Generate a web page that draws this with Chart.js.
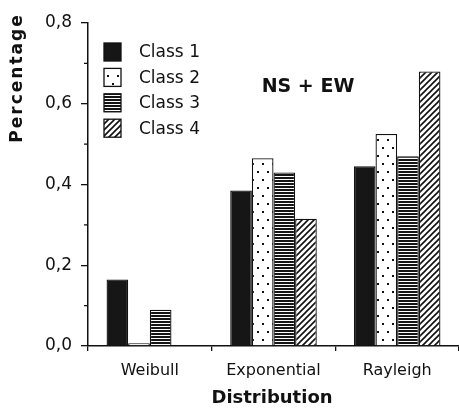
<!DOCTYPE html>
<html>
<head>
<meta charset="utf-8">
<script src="https://cdn.jsdelivr.net/npm/chart.js@4/dist/chart.umd.min.js"></script>
<style>
  html, body { margin: 0; padding: 0; background: #fff; }
  #wrap { width: 459px; height: 413px; position: relative; }
</style>
</head>
<body>
<div id="wrap"><canvas id="c" width="459" height="413"></canvas></div>
<script>
// ---- data ----
const categories = ['Weibull', 'Exponential', 'Rayleigh'];
const seriesLabels = ['Class 1', 'Class 2', 'Class 3', 'Class 4'];
const class1 = [0.165, 0.385, 0.445];
const class2 = [0.007, 0.465, 0.525];
const class3 = [0.09, 0.43, 0.47];
const class4 = [0, 0.315, 0.68];
const minorTicks = [0.1, 0.3, 0.5, 0.7];
const xTitle = 'Distribution';
const yTitle = 'Percentage';
const annotation = 'NS + EW';

// ---- patterns ----
function makeTile(w, h, draw) {
  const cv = document.createElement('canvas');
  cv.width = w; cv.height = h;
  const g = cv.getContext('2d');
  g.fillStyle = '#fff'; g.fillRect(0, 0, w, h);
  draw(g);
  return document.getElementById('c').getContext('2d').createPattern(cv, 'repeat');
}
const solid = '#161616';
const dots = makeTile(10, 16, g => {
  g.fillStyle = '#111';
  g.fillRect(2, 3, 2, 2);
  g.fillRect(7, 11, 2, 2);
});
const stripes = makeTile(4, 3, g => {
  g.fillStyle = '#151515';
  g.fillRect(0, 0, 4, 2);
});
const hatch = makeTile(6, 6, g => {
  g.strokeStyle = '#111'; g.lineWidth = 1.6;
  g.beginPath();
  g.moveTo(-1, 7); g.lineTo(7, -1);
  g.moveTo(-4, 4); g.lineTo(4, -4);
  g.moveTo(2, 10); g.lineTo(10, 2);
  g.stroke();
});
const fills = [solid, dots, stripes, hatch];
const seriesValues = [class1, class2, class3, class4];

const extras = {
  id: 'extras',
  afterDraw(chart) {
    const ctx = chart.ctx;
    const ys = chart.scales.y;
    const area = chart.chartArea;
    ctx.save();
    // minor ticks
    ctx.strokeStyle = '#111'; ctx.lineWidth = 1.3;
    minorTicks.forEach(v => {
      const y = ys.getPixelForValue(v);
      ctx.beginPath(); ctx.moveTo(area.left - 4, y); ctx.lineTo(area.left, y); ctx.stroke();
    });
    // legend
    ctx.font = '17px "DejaVu Sans"';
    ctx.textBaseline = 'middle';
    ctx.textAlign = 'left';
    chart.data.datasets.forEach((ds, i) => {
      const cy = 52 + i * 25.4;
      ctx.fillStyle = ds.backgroundColor;
      ctx.fillRect(104, cy - 9, 17, 18);
      ctx.strokeStyle = '#111'; ctx.lineWidth = 1.3;
      ctx.strokeRect(104, cy - 9, 17, 18);
      ctx.fillStyle = '#111';
      ctx.fillText(ds.label, 139, cy + 1);
    });
    // annotation
    ctx.font = 'bold 19px "DejaVu Sans"';
    ctx.textAlign = 'center';
    ctx.fillText(annotation, 308, 87);
    // x title
    ctx.font = 'bold 18px "DejaVu Sans"';
    ctx.fillText(xTitle, 272, 398);
    // y title
    ctx.translate(18, 78);
    ctx.rotate(-Math.PI / 2);
    ctx.font = 'bold 17px "DejaVu Sans"';
    ctx.letterSpacing = '2px';
    ctx.fillText(yTitle, 0, 0);
    ctx.restore();
  }
};

new Chart(document.getElementById('c'), {
  type: 'bar',
  data: {
    labels: categories,
    datasets: seriesLabels.map((lab, i) => ({
      label: lab,
      data: seriesValues[i],
      backgroundColor: fills[i],
      borderColor: '#111',
      borderWidth: 1.3,
      borderSkipped: 'bottom',
      categoryPercentage: 0.7,
      barPercentage: 1.0
    }))
  },
  options: {
    responsive: false,
    animation: false,
    devicePixelRatio: 1,
    layout: { padding: { top: 23, left: 0, right: 0, bottom: 0 } },
    plugins: { legend: { display: false }, tooltip: { enabled: false }, title: { display: false } },
    scales: {
      x: {
        offset: true,
        grid: { offset: true, drawOnChartArea: false, drawTicks: true, tickLength: 5, color: '#111', lineWidth: 1.3 },
        border: { display: true, color: '#111', width: 1.5 },
        ticks: { color: '#111', font: { family: 'DejaVu Sans', size: 16 }, padding: 10, maxRotation: 0 },
        afterFit(s) { s.height = 67; }
      },
      y: {
        min: 0, max: 0.8,
        ticks: {
          stepSize: 0.2, color: '#111', padding: 9,
          font: { family: 'DejaVu Sans', size: 17 },
          callback: v => v.toFixed(1).replace('.', ',')
        },
        grid: { drawOnChartArea: false, drawTicks: true, tickLength: 7, color: '#111', lineWidth: 1.3 },
        border: { display: true, color: '#111', width: 1.5 },
        afterFit(s) { s.width = 88; }
      }
    }
  },
  plugins: [extras]
});
</script>
</body>
</html>
